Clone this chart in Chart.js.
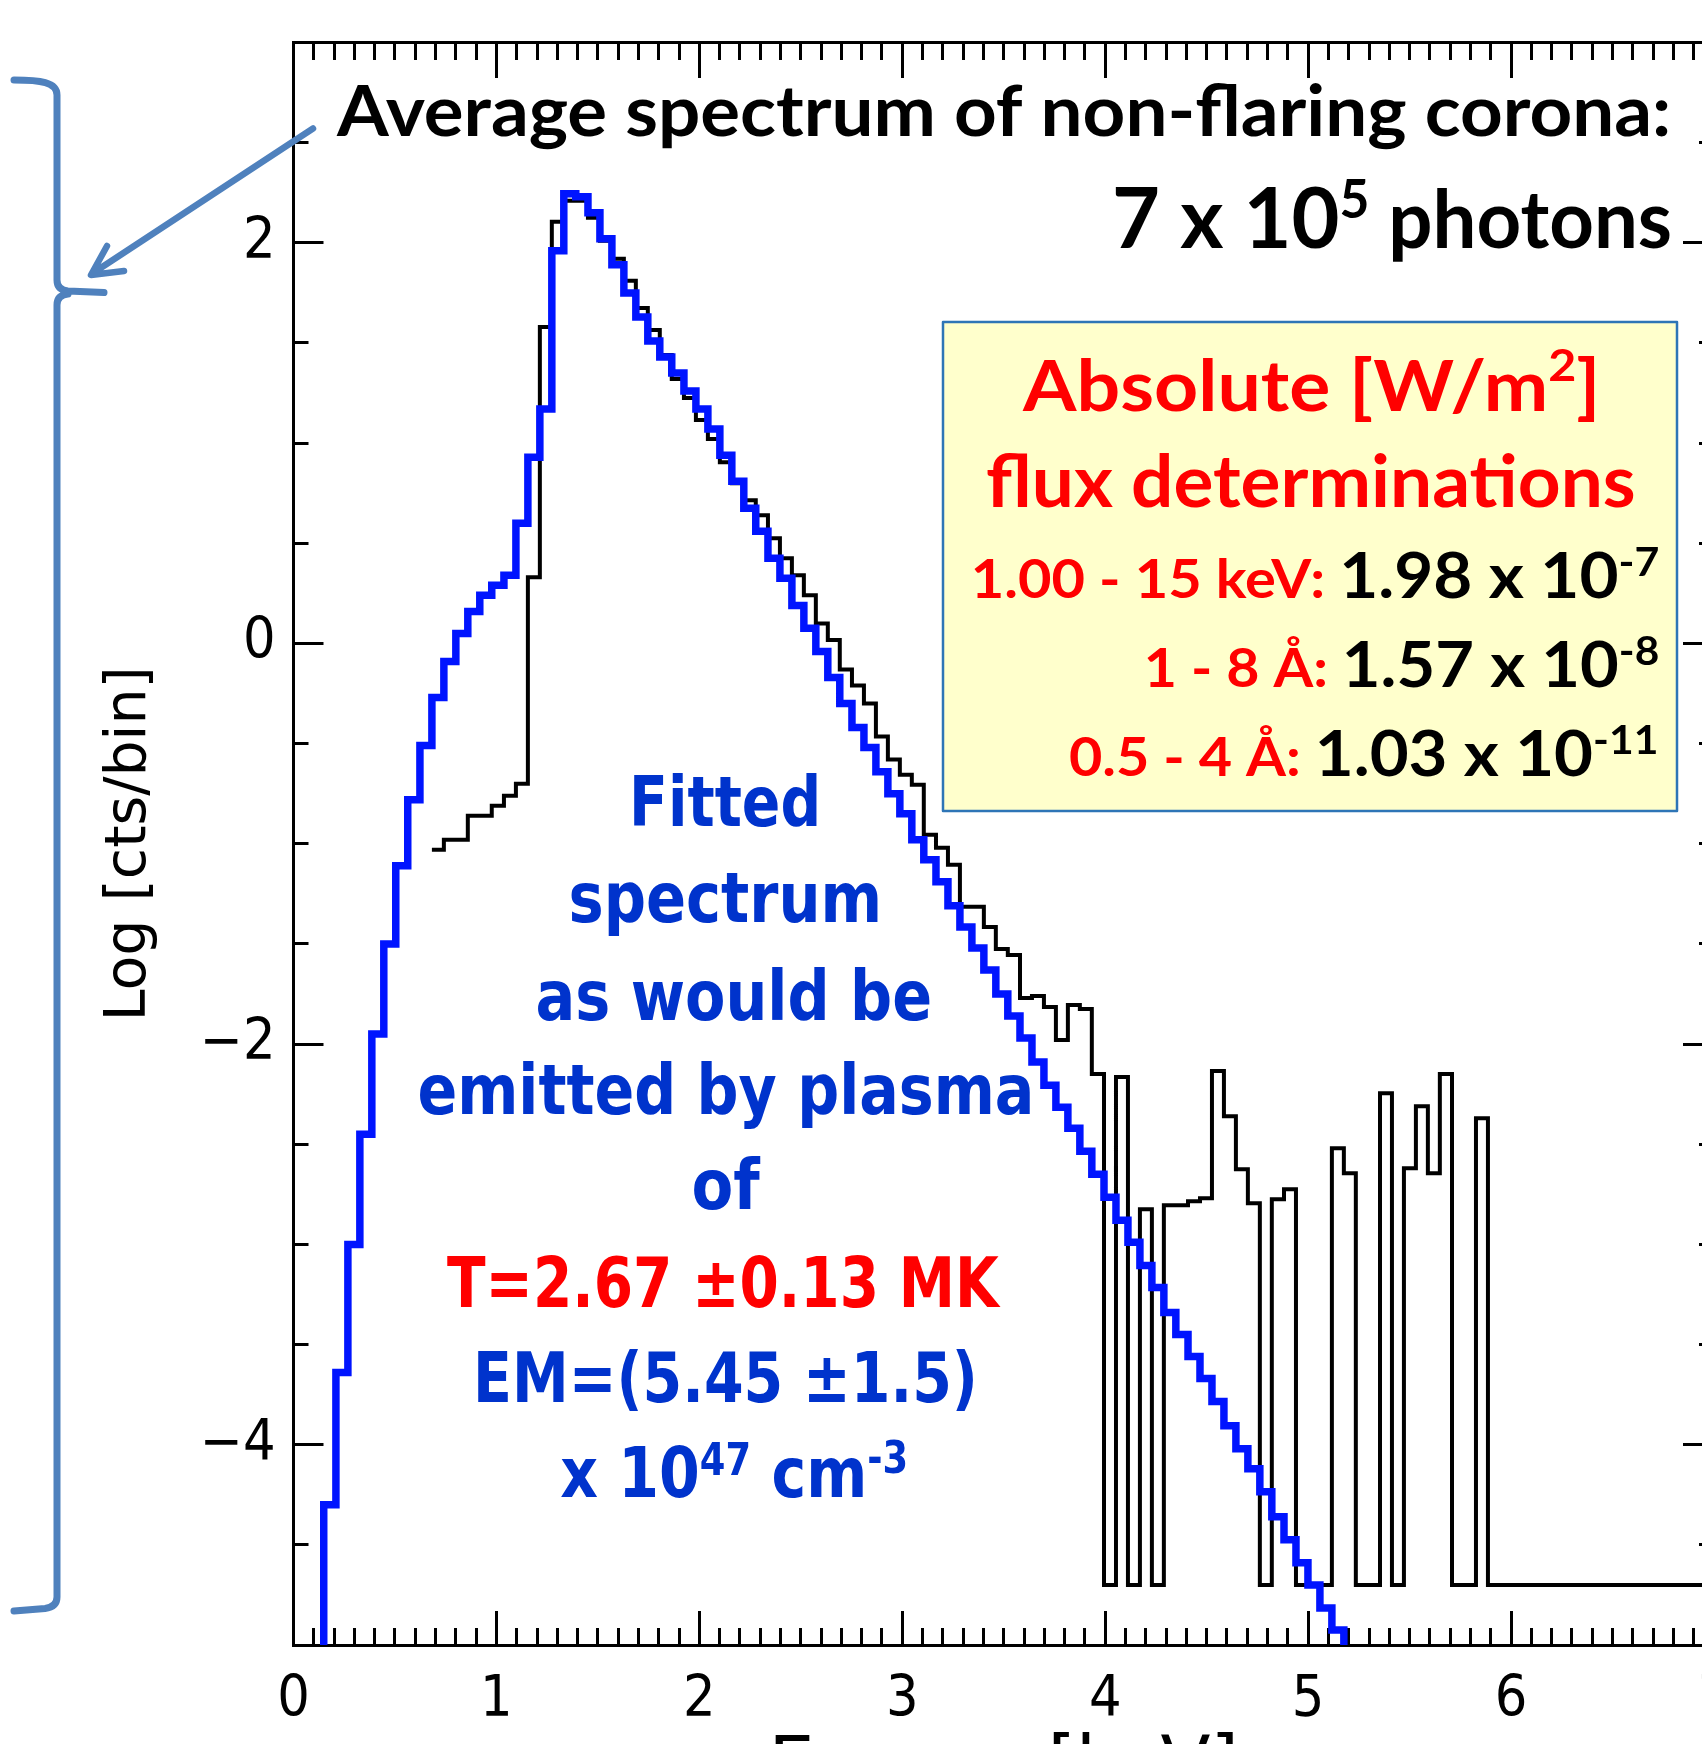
<!DOCTYPE html>
<html lang="en">
<head>
<meta charset="UTF-8" />
<title>Average spectrum of non-flaring corona</title>
<script src="https://cdn.jsdelivr.net/npm/chart.js"></script>
<style>
  html, body { margin: 0; padding: 0; background: #fff; overflow: hidden; }
  canvas { display: block; }
</style>
</head>
<body>
<canvas id="chart" width="1730" height="1744"></canvas>
<script>
// left edge of each energy bin [keV]
const energy = [
  0.090, 0.149, 0.209, 0.268, 0.327, 0.386, 0.445, 0.504, 0.563, 0.623,
  0.682, 0.741, 0.800, 0.859, 0.918, 0.977, 1.037, 1.096, 1.155, 1.214,
  1.273, 1.332, 1.391, 1.451, 1.510, 1.569, 1.628, 1.687, 1.746, 1.805,
  1.864, 1.924, 1.983, 2.042, 2.101, 2.160, 2.219, 2.278, 2.338, 2.397,
  2.456, 2.515, 2.574, 2.633, 2.692, 2.752, 2.811, 2.870, 2.929, 2.988,
  3.047, 3.106, 3.166, 3.225, 3.284, 3.343, 3.402, 3.461, 3.520, 3.580,
  3.639, 3.698, 3.757, 3.816, 3.875, 3.934, 3.994, 4.053, 4.112, 4.171,
  4.230, 4.289, 4.348, 4.408, 4.467, 4.526, 4.585, 4.644, 4.703, 4.762,
  4.821, 4.881, 4.940, 4.999, 5.058, 5.117, 5.176, 5.235, 5.295, 5.354,
  5.413, 5.472, 5.531, 5.590, 5.649, 5.709, 5.768, 5.827, 5.886, 5.945,
  6.004, 6.063, 6.123, 6.182, 6.241, 6.300, 6.359, 6.418, 6.477, 6.537,
  6.596, 6.655, 6.714, 6.773, 6.832, 6.891, 6.951, 7.010
];

// measured spectrum, log10 counts per bin (empty bins sit at the floor)
const observed = [
  null, null, null, null, null, null, null, null, null, null,
  -1.03, -0.98, -0.98, -0.86, -0.86, -0.81, -0.76, -0.70, 0.33, 1.58,
  2.105, 2.21, 2.21, 2.125, 2.01, 1.92, 1.81, 1.675, 1.565, 1.44,
  1.32, 1.225, 1.115, 1.02, 0.905, 0.80, 0.715, 0.64, 0.525, 0.425,
  0.34, 0.24, 0.10, 0.017, -0.13, -0.21, -0.30, -0.465, -0.58, -0.655,
  -0.705, -0.955, -1.02, -1.105, -1.315, -1.315, -1.415, -1.525, -1.555, -1.77,
  -1.76, -1.815, -1.98, -1.805, -1.825, -2.15, -4.70, -2.165, -4.70, -2.825,
  -4.70, -2.805, -2.805, -2.785, -2.77, -2.135, -2.36, -2.625, -2.795, -4.70,
  -2.775, -2.725, -4.70, -4.70, -4.70, -2.52, -2.645, -4.70, -4.70, -2.245,
  -4.70, -2.62, -2.31, -2.645, -2.15, -4.70, -4.70, -2.37, -4.70, -4.70,
  -4.70, -4.70, -4.70, -4.70, -4.70, -4.70, -4.70, -4.70, -4.70, -4.70,
  -4.70, -4.70, -4.70, -4.70, -4.70, -4.70, -4.70, -4.70
];

// fitted thermal model, log10 counts per bin
const fitted = [
  -5.5, -4.30, -3.64, -3.00, -2.45, -1.95, -1.50, -1.11, -0.78, -0.51,
  -0.27, -0.09, 0.05, 0.16, 0.24, 0.29, 0.34, 0.60, 0.93, 1.17,
  1.96, 2.245, 2.23, 2.15, 2.02, 1.89, 1.75, 1.63, 1.51, 1.43,
  1.35, 1.26, 1.17, 1.07, 0.94, 0.81, 0.675, 0.56, 0.425, 0.325,
  0.19, 0.076, -0.04, -0.17, -0.30, -0.42, -0.52, -0.64, -0.75, -0.85,
  -0.98, -1.08, -1.19, -1.31, -1.415, -1.52, -1.63, -1.75, -1.86, -1.97,
  -2.09, -2.205, -2.315, -2.42, -2.535, -2.65, -2.765, -2.88, -2.99, -3.105,
  -3.215, -3.34, -3.45, -3.56, -3.67, -3.785, -3.905, -4.02, -4.12, -4.235,
  -4.36, -4.475, -4.59, -4.70, -4.815, -4.925, -5.04, null, null, null,
  null, null, null, null, null, null, null, null, null, null,
  null, null, null, null, null, null, null, null, null, null,
  null, null, null, null, null, null, null, null
];

const xMajorTicks = [0, 1, 2, 3, 4, 5, 6, 7];
const yMajorTicks = [-4, -2, 0, 2];
const xTitle = 'Energy [keV]';
const yTitle = 'Log [cts/bin]';

const X_MIN = 0, X_MAX = 7, Y_MIN = -5, Y_MAX = 3;

const tickFont = { family: '"Liberation Sans Narrow", "DejaVu Sans Condensed", sans-serif', size: 57, lineHeight: 1 };
const yTitleFont = { family: '"DejaVu Sans", sans-serif', size: 57, lineHeight: 1 };
const xTitleFont = { family: '"DejaVu Sans", sans-serif', size: 73, lineHeight: 1 };

function noPad(s) { s.paddingLeft = s.paddingRight = s.paddingTop = s.paddingBottom = 0; }

// tick-only axes glued to the frame edges (ticks point inwards)
function frameAxis(axis, pos, step, len, withBorder, majors) {
  return {
    type: 'linear', axis: axis, position: pos,
    min: axis === 'x' ? X_MIN : Y_MIN, max: axis === 'x' ? X_MAX : Y_MAX,
    ticks: { display: false, stepSize: step, autoSkip: false },
    afterBuildTicks: majors ? (s) => { s.ticks = majors.map(v => ({ value: v })); } : undefined,
    grid: { display: true, drawOnChartArea: false, drawTicks: true, tickLength: len, tickWidth: 3, tickColor: '#000' },
    border: { display: withBorder, width: 3, color: '#000' },
    afterFit: noPad
  };
}

function pts(vals) { return energy.map((e, i) => ({ x: e, y: vals[i] })); }

// one line of mixed-size text, squeezed to the given ink extent
function richLine(ctx, parts, left, right, baseline, family) {
  let adv = 0, inkL = 0, inkR = 0;
  parts.forEach((p, i) => {
    ctx.font = 'bold ' + p.size + 'px ' + family;
    const m = ctx.measureText(p.text);
    p.adv = m.width;
    if (i === 0) inkL = m.actualBoundingBoxLeft;
    if (i === parts.length - 1) inkR = m.actualBoundingBoxRight; else adv += m.width;
  });
  const sx = (right - left) / (inkL + adv + inkR);
  ctx.save();
  ctx.translate(left + inkL * sx, baseline);
  ctx.scale(sx, 1);
  ctx.textAlign = 'left';
  ctx.textBaseline = 'alphabetic';
  let x = 0;
  parts.forEach(p => {
    ctx.font = 'bold ' + p.size + 'px ' + family;
    ctx.fillStyle = p.color;
    ctx.fillText(p.text, x, -(p.rise || 0));
    x += p.adv;
  });
  ctx.restore();
}

const overlay = {
  id: 'overlay',
  afterDraw(chart) {
    const ctx = chart.ctx;
    const red = '#ff0000', black = '#000000', blue = '#0033cc';
    const LATO = 'Lato, "Open Sans", sans-serif';
    const DJV = '"DejaVu Sans", sans-serif';
    ctx.save();

    // curly brace and arrow
    ctx.strokeStyle = '#4f81bd';
    ctx.lineCap = 'round';
    ctx.lineJoin = 'round';
    ctx.lineWidth = 7;
    ctx.beginPath();
    ctx.moveTo(14, 80);
    ctx.bezierCurveTo(40, 80, 57, 82, 57, 95);
    ctx.lineTo(57, 280);
    ctx.quadraticCurveTo(57, 290, 68, 291);
    ctx.lineTo(104, 292.5);
    ctx.moveTo(68, 294);
    ctx.quadraticCurveTo(57, 295, 57, 305);
    ctx.lineTo(57, 1597);
    ctx.quadraticCurveTo(57, 1607, 45, 1608.5);
    ctx.lineTo(14, 1611);
    ctx.stroke();

    ctx.lineWidth = 6.5;
    ctx.beginPath();
    ctx.moveTo(313, 128.5);
    ctx.lineTo(93, 273);
    ctx.moveTo(107, 246);
    ctx.lineTo(91, 275);
    ctx.lineTo(124, 271);
    ctx.stroke();

    // headline
    richLine(ctx, [{ text: 'Average spectrum of non-flaring corona:', size: 70, color: black }], 336, 1668, 136, LATO);
    richLine(ctx, [
      { text: '7 x 10', size: 85, color: black },
      { text: '5', size: 53, color: black, rise: 30 },
      { text: ' photons', size: 80, color: black }
    ], 1115, 1670, 248, LATO);

    // flux box
    ctx.fillStyle = '#ffffcc';
    ctx.fillRect(943, 322, 734, 489);
    ctx.lineWidth = 2.5;
    ctx.strokeStyle = '#2e75b6';
    ctx.strokeRect(943, 322, 734, 489);

    richLine(ctx, [
      { text: 'Absolute [W/m', size: 70, color: red },
      { text: '2', size: 44, color: red, rise: 30 },
      { text: ']', size: 70, color: red }
    ], 1022, 1595, 411, LATO);
    richLine(ctx, [{ text: 'flux determinations', size: 72, color: red }], 987, 1634, 507, LATO);
    richLine(ctx, [
      { text: '1.00 - 15 keV: ', size: 54, color: red },
      { text: '1.98 x 10', size: 63, color: black },
      { text: '-7', size: 40, color: black, rise: 22 }
    ], 974, 1658, 597.5, LATO);
    richLine(ctx, [
      { text: '1 - 8 Å: ', size: 54, color: red },
      { text: '1.57 x 10', size: 63, color: black },
      { text: '-8', size: 40, color: black, rise: 22 }
    ], 1147, 1658, 686.5, LATO);
    richLine(ctx, [
      { text: '0.5 - 4 Å: ', size: 54, color: red },
      { text: '1.03 x 10', size: 63, color: black },
      { text: '-11', size: 40, color: black, rise: 22 }
    ], 1070, 1656, 776, LATO);

    // fit annotation
    richLine(ctx, [{ text: 'Fitted', size: 70, color: blue }], 634, 817, 826, DJV);
    richLine(ctx, [{ text: 'spectrum', size: 70, color: blue }], 571, 878, 922, DJV);
    richLine(ctx, [{ text: 'as would be', size: 70, color: blue }], 538, 930, 1019.5, DJV);
    richLine(ctx, [{ text: 'emitted by plasma', size: 70, color: blue }], 420, 1030, 1114, DJV);
    richLine(ctx, [{ text: 'of', size: 70, color: blue }], 694, 761, 1209, DJV);
    richLine(ctx, [{ text: 'T=2.67 ±0.13 MK', size: 70, color: red }], 447, 1001, 1307, DJV);
    richLine(ctx, [{ text: 'EM=(5.45 ±1.5)', size: 70, color: blue }], 478, 973, 1401.5, DJV);
    richLine(ctx, [
      { text: 'x 10', size: 70, color: blue },
      { text: '47', size: 44, color: blue, rise: 22 },
      { text: ' cm', size: 70, color: blue },
      { text: '-3', size: 44, color: blue, rise: 24 }
    ], 561, 906, 1496.5, DJV);

    ctx.restore();
  }
};

const chart = new Chart(document.getElementById('chart'), {
  type: 'line',
  data: {
    datasets: [
      {
        label: 'Fitted spectrum', data: pts(fitted), order: 0,
        borderColor: '#0014ff', borderWidth: 7.5, stepped: 'before',
        pointRadius: 0, fill: false, spanGaps: false,
        borderJoinStyle: 'miter', borderCapStyle: 'butt'
      },
      {
        label: 'Observed spectrum', data: pts(observed), order: 1,
        borderColor: '#000000', borderWidth: 4, stepped: 'before',
        pointRadius: 0, fill: false, spanGaps: false,
        borderJoinStyle: 'miter', borderCapStyle: 'butt'
      }
    ]
  },
  options: {
    responsive: false,
    animation: false,
    events: [],
    layout: { autoPadding: false, padding: { left: 0, top: 42.5, right: 16, bottom: 0 } },
    plugins: { legend: { display: false }, tooltip: { enabled: false } },
    scales: {
      x: {
        type: 'linear', axis: 'x', position: 'bottom', min: X_MIN, max: X_MAX,
        afterBuildTicks: (s) => { s.ticks = xMajorTicks.map(v => ({ value: v })); },
        ticks: { font: tickFont, color: '#000', padding: 62, maxRotation: 0, autoSkip: false,
                 callback: (v) => String(v) },
        grid: { drawOnChartArea: false, drawTicks: true, tickLength: -34, tickWidth: 3, tickColor: '#000' },
        border: { display: true, width: 3, color: '#000' },
        title: { display: true, text: xTitle, font: xTitleFont, color: '#000', padding: { top: 0, bottom: -62 } },
        afterFit: (s) => { noPad(s); s.height = 99; }
      },
      y: {
        type: 'linear', axis: 'y', position: 'left', min: Y_MIN, max: Y_MAX,
        afterBuildTicks: (s) => { s.ticks = yMajorTicks.map(v => ({ value: v })); },
        ticks: { font: tickFont, color: '#000', padding: 48, autoSkip: false,
                 callback: (v) => (v < 0 ? '\u2212' : '') + Math.abs(v) },
        grid: { drawOnChartArea: false, drawTicks: true, tickLength: -30, tickWidth: 3, tickColor: '#000' },
        border: { display: true, width: 3, color: '#000' },
        title: { display: true, text: yTitle, font: yTitleFont, color: '#000', padding: { top: 102, bottom: 0 } },
        afterFit: (s) => { noPad(s); s.width = 293.5; }
      },
      xMinor: frameAxis('x', { y: Y_MIN }, 0.1, -17, false),
      xTop: frameAxis('x', { y: Y_MAX }, 1, 34, true, xMajorTicks),
      xTopMinor: frameAxis('x', { y: Y_MAX }, 0.1, 17, false),
      yMinor: frameAxis('y', { x: X_MIN }, 0.5, -14.5, false),
      yRight: frameAxis('y', { x: X_MAX }, 2, 30, true, yMajorTicks),
      yRightMinor: frameAxis('y', { x: X_MAX }, 0.5, 15, false)
    }
  },
  plugins: [overlay]
});

if (document.fonts && document.fonts.ready) {
  document.fonts.ready.then(() => chart.update());
}
</script>
</body>
</html>
